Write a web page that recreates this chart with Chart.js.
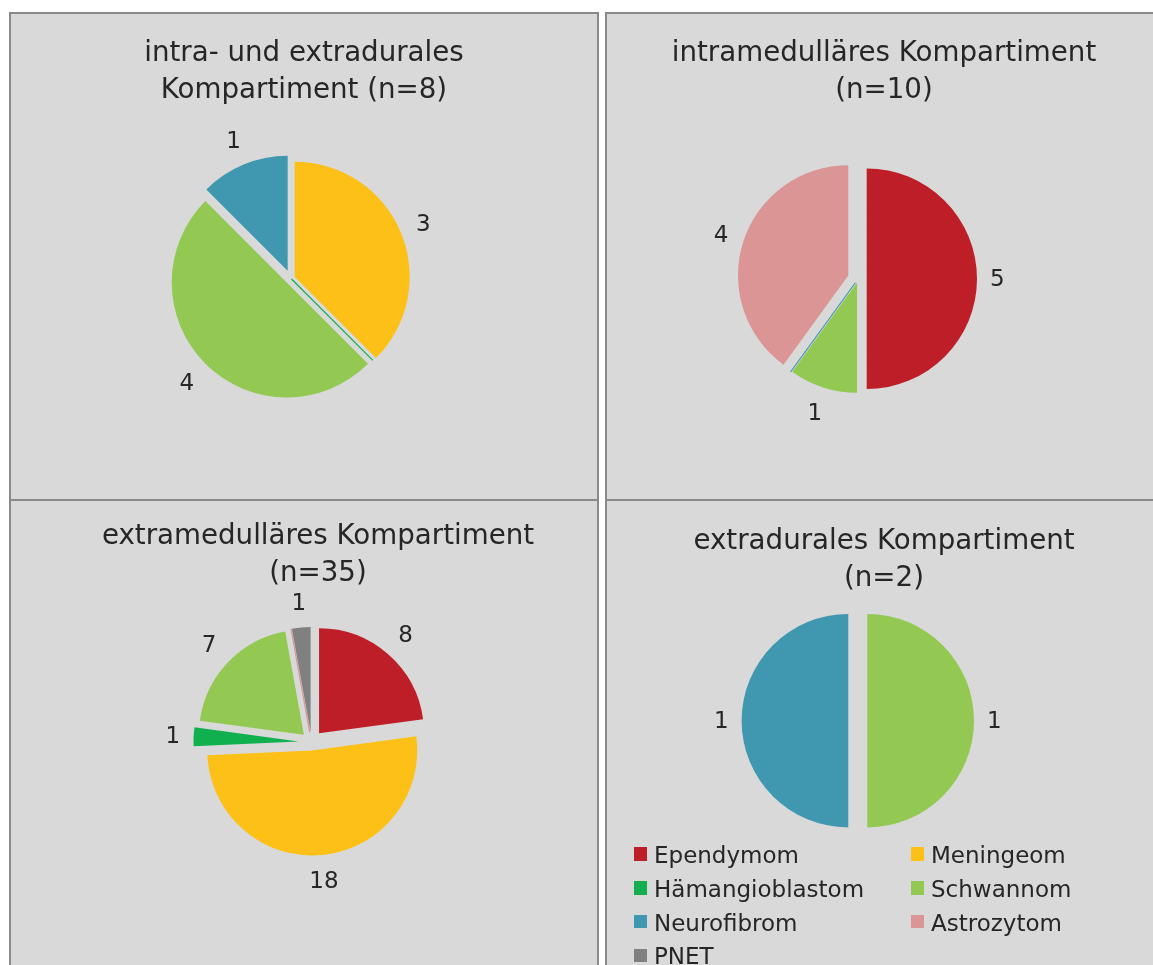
<!DOCTYPE html>
<html lang="de">
<head>
<meta charset="utf-8">
<title>Tumorentitäten nach Kompartiment</title>
<script src="https://cdn.jsdelivr.net/npm/chart.js@4.4.1/dist/chart.umd.min.js"></script>
<style>
  html, body { margin: 0; padding: 0; background: #ffffff; }
  body { width: 1153px; height: 965px; overflow: hidden; position: relative; font-family: "DejaVu Sans", sans-serif; }
  .panel { position: absolute; box-sizing: border-box; background: #d9d9d9; border: 2px solid #898989; }
  canvas { position: absolute; }
  .legend-item { position: absolute; font-size: 23px; line-height: 27px; color: #262626; white-space: nowrap; padding-left: 20px; }
  .legend-item .swatch { position: absolute; left: 0; top: 5.4px; width: 13.4px; height: 13.4px; }
</style>
</head>
<body>
<div class="panel" style="left:9px;top:12px;width:590px;height:489px"></div>
<div class="panel" style="left:605px;top:12px;width:560px;height:489px"></div>
<div class="panel" style="left:9px;top:499px;width:590px;height:480px"></div>
<div class="panel" style="left:605px;top:499px;width:560px;height:480px"></div>
<canvas id="pieIntraExtra"></canvas>
<canvas id="pieIntramed"></canvas>
<canvas id="pieExtramed"></canvas>
<canvas id="pieExtradural"></canvas>
<div id="legend"></div>
<script>
// Tumour entities (legend order)
const categories = ['Ependymom', 'Meningeom', 'Hämangioblastom', 'Schwannom', 'Neurofibrom', 'Astrozytom', 'PNET'];

// Case counts per compartment, one value per entity
const intraUndExtradural = [0, 3, 0, 4, 1, 0, 0];   // n=8
const intramedullaer     = [5, 0, 0, 1, 0, 4, 0];   // n=10
const extramedullaer     = [8, 18, 1, 7, 0, 0, 1];  // n=35
const extradural         = [0, 0, 0, 1, 1, 0, 0];   // n=2

// Chart titles
const titleIntraExtra = ['intra- und extradurales', 'Kompartiment (n=8)'];
const titleIntramed   = ['intramedulläres Kompartiment', '(n=10)'];
const titleExtramed   = ['extramedulläres Kompartiment', '(n=35)'];
const titleExtradural = ['extradurales Kompartiment', '(n=2)'];

// ---- styling ----
const sliceColors = ['#be1e27', '#fdc016', '#10b04f', '#93c952', '#3f97b0', '#da9594', '#808080'];
const textColor = '#262626';
const FONT = '"DejaVu Sans", sans-serif';
Chart.defaults.font.family = FONT;

const TITLE_SIZE = 27.7;
const TITLE_LH = 36.9;          // px between title lines
const LABEL_SIZE = 23;
const LABEL_PAD = 13;
const LABEL_DY = 1.5;

// Per-panel layout: canvas box, pie centre, radius, slice explosion (px),
// zero-value slices that still show as a hairline, title position.
const panels = [
  { id: 'pieIntraExtra', data: intraUndExtradural, title: titleIntraExtra,
    box: { left: 11, top: 14, w: 586, h: 485 }, center: { x: 290.8, y: 278.3 }, radius: 115,
    explode: [0, 4.2, 1, 5.8, 8.2, 0, 0], hairlines: [2], titleX: 304, titleMid: 54 },
  { id: 'pieIntramed', data: intramedullaer, title: titleIntramed,
    box: { left: 607, top: 14, w: 556, h: 485 }, center: { x: 858.3, y: 278.7 }, radius: 110.3,
    explode: [8.4, 0, 0, 4, 5, 10.5, 0], hairlines: [4], titleX: 884, titleMid: 54 },
  { id: 'pieExtramed', data: extramedullaer, title: titleExtramed,
    box: { left: 11, top: 501, w: 586, h: 464 }, center: { x: 311.5, y: 742 }, radius: 105,
    explode: [11.5, 8.5, 13, 10.5, 0, 10, 10], hairlines: [5], titleX: 318, titleMid: 537.2 },
  { id: 'pieExtradural', data: extradural, title: titleExtradural,
    box: { left: 607, top: 501, w: 556, h: 464 }, center: { x: 857.8, y: 720.7 }, radius: 106.7,
    explode: [0, 0, 0, 9.5, 9.5, 0, 0], hairlines: [], titleX: 884, titleMid: 542 }
];

// Draws each slice shifted along its bisector (exploded pie), zero slices as
// hairlines, the value labels outside the slices, and re-centres the title.
function pieDecorations(p, titleDx) {
  return {
    id: 'explodedPie',
    afterLayout(chart) {
      if (chart.titleBlock) {
        chart.titleBlock.left += titleDx;
        chart.titleBlock.right += titleDx;
      }
    },
    beforeDatasetDraw(chart, args) {
      const ctx = chart.ctx;
      args.meta.data.forEach((arc, i) => {
        const d = p.explode[i] || 0;
        if (arc.circumference === 0) {
          if (!p.hairlines.includes(i)) return;
          const ux = Math.cos(arc.startAngle), uy = Math.sin(arc.startAngle);
          ctx.save();
          ctx.strokeStyle = arc.options.backgroundColor;
          ctx.lineWidth = 1.2;
          ctx.beginPath();
          ctx.moveTo(arc.x + ux * d, arc.y + uy * d);
          ctx.lineTo(arc.x + ux * (d + arc.outerRadius), arc.y + uy * (d + arc.outerRadius));
          ctx.stroke();
          ctx.restore();
          return;
        }
        const mid = (arc.startAngle + arc.endAngle) / 2;
        ctx.save();
        ctx.translate(Math.cos(mid) * d, Math.sin(mid) * d);
        arc.draw(ctx);
        ctx.restore();
      });
      return false;
    },
    afterDatasetsDraw(chart) {
      const ctx = chart.ctx;
      const values = chart.data.datasets[0].data;
      const meta = chart.getDatasetMeta(0);
      ctx.save();
      ctx.font = LABEL_SIZE + 'px ' + FONT;
      ctx.fillStyle = textColor;
      ctx.textAlign = 'center';
      ctx.textBaseline = 'middle';
      meta.data.forEach((arc, i) => {
        const v = values[i];
        if (!v) return;
        const mid = (arc.startAngle + arc.endAngle) / 2;
        const ux = Math.cos(mid), uy = Math.sin(mid);
        const txt = String(v);
        const hw = ctx.measureText(txt).width / 2;
        const hh = LABEL_SIZE / 2;
        const dist = arc.outerRadius + (p.explode[i] || 0) + LABEL_PAD + Math.abs(ux) * hw + Math.abs(uy) * hh;
        ctx.fillText(txt, arc.x + ux * dist, arc.y + uy * dist + LABEL_DY);
      });
      ctx.restore();
    }
  };
}

panels.forEach(p => {
  const cv = document.getElementById(p.id);
  cv.width = p.box.w;
  cv.height = p.box.h;
  cv.style.left = p.box.left + 'px';
  cv.style.top = p.box.top + 'px';

  const cx = p.center.x - p.box.left;
  const cy = p.center.y - p.box.top;
  const padTop = (p.titleMid - p.box.top) - TITLE_LH / 2;
  const padBottomTitle = 8;
  const chartTop = padTop + 2 * TITLE_LH + padBottomTitle;
  const layoutPad = { top: 0, left: 0, right: 0, bottom: p.box.h - (2 * cy - chartTop) };
  if (2 * cx <= p.box.w) layoutPad.right = p.box.w - 2 * cx; else layoutPad.left = 2 * cx - p.box.w;
  const titleDx = (p.titleX - p.box.left) - cx;

  new Chart(cv, {
    type: 'pie',
    data: {
      labels: categories,
      datasets: [{
        data: p.data,
        backgroundColor: sliceColors,
        borderWidth: 0,
        radius: p.radius
      }]
    },
    options: {
      responsive: false,
      animation: false,
      devicePixelRatio: 1,
      events: [],
      layout: { padding: layoutPad },
      plugins: {
        legend: { display: false },
        tooltip: { enabled: false },
        title: {
          display: true,
          text: p.title,
          color: textColor,
          font: { family: FONT, size: TITLE_SIZE, weight: 'normal', lineHeight: TITLE_LH / TITLE_SIZE },
          padding: { top: padTop, bottom: padBottomTitle }
        }
      }
    },
    plugins: [pieDecorations(p, titleDx)]
  });
});

// Legend (two columns, row-major order)
const legendEl = document.getElementById('legend');
const legendCols = [634, 911];
const legendTop = 842, legendRow = 33.8;
categories.forEach((name, i) => {
  const item = document.createElement('div');
  item.className = 'legend-item';
  item.style.left = legendCols[i % 2] + 'px';
  item.style.top = (legendTop + Math.floor(i / 2) * legendRow) + 'px';
  const sw = document.createElement('span');
  sw.className = 'swatch';
  sw.style.background = sliceColors[i];
  item.appendChild(sw);
  item.appendChild(document.createTextNode(name));
  legendEl.appendChild(item);
});
</script>
</body>
</html>
